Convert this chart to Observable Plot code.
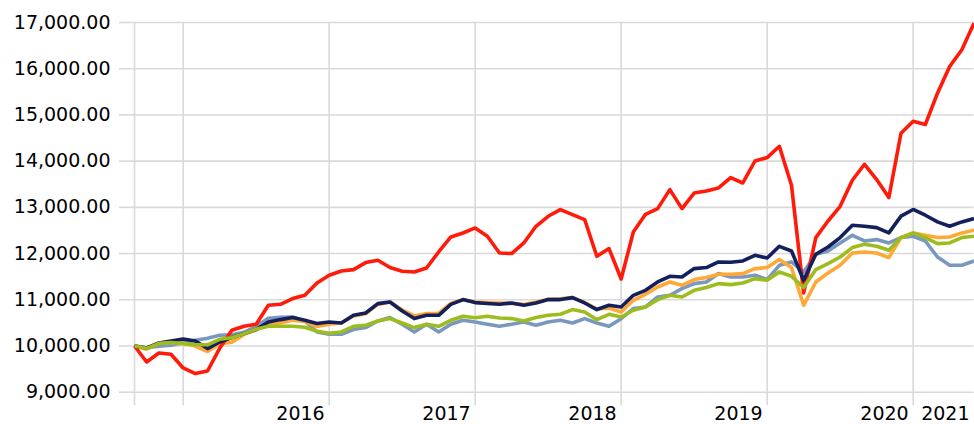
<!DOCTYPE html>
<html>
<head>
<meta charset="utf-8">
<script src="https://cdn.jsdelivr.net/npm/d3@7"></script>
<script src="https://cdn.jsdelivr.net/npm/@observablehq/plot@0.6"></script>
<style>
  html, body { margin: 0; padding: 0; background: #fff; }
  #chart { width: 974px; height: 424px; }
</style>
</head>
<body>
<div id="chart"></div>
<script>
// Month index (0..69) of each observation
const months = d3.range(70);

// Series values
const red = [10000,9654,9849,9820,9524,9403,9459,9950,10340,10426,10470,10881,10902,11026,11097,11363,11530,11623,11653,11805,11855,11697,11617,11601,11688,12034,12359,12445,12554,12374,12013,12000,12229,12590,12807,12952,12844,12736,11941,12108,11450,12467,12850,12973,13384,12973,13310,13354,13419,13644,13527,14003,14077,14321,13477,11147,12346,12705,13023,13586,13932,13601,13211,14604,14864,14793,15470,16048,16409,16985];
const navy = [10000,9957,10065,10108,10151,10108,9944,10087,10182,10268,10355,10519,10571,10615,10556,10485,10519,10498,10664,10714,10917,10952,10757,10593,10664,10664,10902,11004,10939,10918,10902,10931,10881,10931,11004,11004,11047,10931,10788,10881,10844,11097,11205,11385,11508,11493,11675,11697,11818,11812,11840,11963,11904,12157,12056,11422,11985,12143,12346,12612,12590,12562,12447,12809,12954,12830,12685,12592,12685,12758];
const steel = [10000,9960,9993,10015,10070,10123,10167,10232,10242,10296,10426,10600,10621,10628,10541,10303,10253,10253,10355,10398,10541,10615,10470,10303,10470,10303,10470,10556,10519,10470,10426,10470,10519,10448,10519,10556,10498,10593,10498,10426,10590,10809,10844,11060,11097,11242,11350,11385,11567,11493,11493,11530,11437,11746,11818,11601,11985,12056,12229,12396,12272,12302,12229,12346,12374,12272,11926,11746,11746,11839];
const orange = [10000,9930,10050,10080,10060,10000,9880,10050,10080,10250,10350,10480,10500,10560,10530,10420,10470,10500,10650,10700,10900,10950,10780,10650,10700,10710,10920,11000,10950,10940,10930,10920,10900,10950,11010,11020,11050,10940,10800,10820,10736,10989,11119,11277,11385,11314,11437,11480,11551,11551,11567,11675,11697,11870,11697,10881,11385,11580,11746,12013,12034,12013,11913,12346,12447,12396,12346,12360,12447,12505];
const green = [10000,9950,10058,10074,10052,10026,10026,10145,10177,10268,10361,10426,10426,10426,10405,10318,10275,10303,10426,10448,10541,10593,10498,10398,10470,10426,10556,10643,10612,10643,10606,10593,10541,10615,10664,10686,10788,10736,10571,10686,10628,10773,10844,11004,11097,11060,11205,11264,11350,11328,11363,11458,11422,11601,11508,11264,11653,11783,11926,12130,12201,12158,12071,12346,12447,12346,12216,12229,12346,12374];

// Axis ticks and labels
const yTicks = [9000,10000,11000,12000,13000,14000,15000,16000,17000];
const xTickMonths = [0,4,16,28,40,52,64];
const yearLabelsLeft = [{m:16,t:"2016"},{m:28,t:"2017"},{m:40,t:"2018"},{m:52,t:"2019"},{m:64,t:"2020"}];
const yearLabelsRight = [{m:64,t:"2021"}];

const seriesDefs = [
  {name:"steel", values: steel, color:"#7a97c0"},
  {name:"orange", values: orange, color:"#ffa835"},
  {name:"red", values: red, color:"#ff1a0a"},
  {name:"navy", values: navy, color:"#13205c"},
  {name:"green", values: green, color:"#9dbd1e"}
];

const grid = "#d9d9d9";
const lineMarks = seriesDefs.map(s =>
  Plot.line(months.map((m, i) => ({m, v: s.values[i]})), {
    x: "m", y: "v", stroke: s.color, strokeWidth: 3.6, strokeLinejoin: "round", strokeLinecap: "butt"
  })
);

const chart = Plot.plot({
  width: 974,
  height: 424,
  marginLeft: 134,
  marginRight: 0.5,
  marginTop: 22,
  marginBottom: 32.3,
  style: {fontFamily: "'DejaVu Sans', Verdana, sans-serif", fontSize: "19px", background: "#fff", color: "#000"},
  x: {type: "linear", domain: [0, 69], label: null},
  y: {domain: [9000, 17000], label: null},
  marks: [
    Plot.gridY(yTicks, {stroke: grid, strokeOpacity: 1, strokeWidth: 1.6}),
    Plot.gridX(xTickMonths, {stroke: grid, strokeOpacity: 1, strokeWidth: 1.6}),
    Plot.axisY(yTicks, {tickSize: 15, tickPadding: 9, stroke: grid, strokeWidth: 1.6, fill: "#000",
      tickFormat: d3.format(",.2f"), label: null, fontSize: 19}),
    Plot.axisX(xTickMonths, {tickSize: 13.5, stroke: grid, strokeWidth: 1.6, tickFormat: () => "", label: null}),
    ...lineMarks,
    Plot.text(yearLabelsLeft, {x: "m", text: "t", frameAnchor: "bottom", dy: 22, dx: -4.5,
      textAnchor: "end", lineAnchor: "middle", fill: "#000", fontSize: 19}),
    Plot.text(yearLabelsRight, {x: "m", text: "t", frameAnchor: "bottom", dy: 22, dx: 8,
      textAnchor: "start", lineAnchor: "middle", fill: "#000", fontSize: 19})
  ]
});
document.getElementById("chart").appendChild(chart);
</script>
</body>
</html>
